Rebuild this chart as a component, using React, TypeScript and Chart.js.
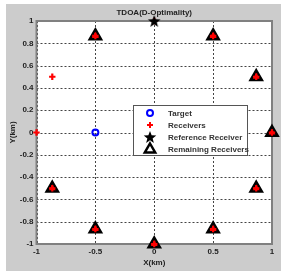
import React, { useEffect, useRef } from "react";
import { Chart, registerables } from "chart.js";

Chart.register(...registerables);

const chartTitle = "TDOA(D-Optimality)";
const xTitle = "X(km)";
const yTitle = "Y(km)";
const xTicks = [-1, -0.5, 0, 0.5, 1];
const yTicks = [-1, -0.8, -0.6, -0.4, -0.2, 0, 0.2, 0.4, 0.6, 0.8, 1];

const targetX = [-0.5];
const targetY = [0];
const receiverX = [1, 0.866, 0.5, 0, -0.5, -0.866, -1, -0.866, -0.5, 0, 0.5, 0.866];
const receiverY = [0, 0.5, 0.866, 1, 0.866, 0.5, 0, -0.5, -0.866, -1, -0.866, -0.5];
const referenceX = [0];
const referenceY = [1];
const remainingX = [1, 0.866, 0.5, -0.5, -0.866, -0.5, 0, 0.5, 0.866];
const remainingY = [0, 0.5, 0.866, 0.866, -0.5, -0.866, -1, -0.866, -0.5];
const legendLabels = ["Target", "Receivers", "Reference Receiver", "Remaining Receivers"];

const FONT = "'Liberation Sans', Arial, sans-serif";

function drawStar(ctx: CanvasRenderingContext2D, cx: number, cy: number, R: number) {
  const r = R * 0.42;
  ctx.beginPath();
  for (let i = 0; i < 10; i++) {
    const rad = (Math.PI / 5) * i - Math.PI / 2;
    const rr = i % 2 === 0 ? R : r;
    const x = cx + Math.cos(rad) * rr;
    const y = cy + Math.sin(rad) * rr;
    if (i === 0) ctx.moveTo(x, y);
    else ctx.lineTo(x, y);
  }
  ctx.closePath();
  ctx.fillStyle = "#000";
  ctx.fill();
}

function makeStarImage(): HTMLCanvasElement {
  const c = document.createElement("canvas");
  c.width = 14;
  c.height = 14;
  const ctx = c.getContext("2d")!;
  drawStar(ctx, 7, 7.6, 6.6);
  return c;
}

function pts(xs: number[], ys: number[]) {
  return xs.map((x, i) => ({ x, y: ys[i] }));
}

export default function App() {
  const ref = useRef<HTMLCanvasElement | null>(null);
  useEffect(() => {
    document.body.style.margin = "0";
    const starImg = makeStarImage();
    const framePlugin = {
      id: "frame",
      beforeDraw(chart: any) {
        const { ctx, chartArea: ca, width, height } = chart;
        ctx.save();
        ctx.fillStyle = "#cccccc";
        ctx.fillRect(0, 0, width, height);
        ctx.fillStyle = "#ffffff";
        ctx.fillRect(ca.left, ca.top, ca.right - ca.left, ca.bottom - ca.top);
        ctx.restore();
      },
      beforeDatasetsDraw(chart: any) {
        const { ctx, chartArea: ca, scales } = chart;
        ctx.save();
        // dotted grid through the library's scales
        ctx.strokeStyle = "#444";
        ctx.lineWidth = 1;
        ctx.setLineDash([2, 2]);
        ctx.beginPath();
        xTicks.forEach((v) => {
          const px = Math.round(scales.x.getPixelForValue(v)) + 0.5;
          ctx.moveTo(px, ca.top);
          ctx.lineTo(px, ca.bottom);
        });
        yTicks.forEach((v) => {
          const py = Math.round(scales.y.getPixelForValue(v)) + 0.5;
          ctx.moveTo(ca.left, py);
          ctx.lineTo(ca.right, py);
        });
        ctx.stroke();
        ctx.setLineDash([]);
        ctx.strokeStyle = "#808080";
        ctx.lineWidth = 2;
        ctx.strokeRect(ca.left, ca.top, ca.right - ca.left, ca.bottom - ca.top);
        ctx.fillStyle = "#222";
        ctx.textAlign = "center";
        ctx.textBaseline = "middle";
        ctx.font = `bold 8px ${FONT}`;
        ctx.fillText(chartTitle, (ca.left + ca.right) / 2, 9);
        ctx.fillText(xTitle, (ca.left + ca.right) / 2, 259);
        ctx.save();
        ctx.translate(6.5, (ca.top + ca.bottom) / 2);
        ctx.rotate(-Math.PI / 2);
        ctx.fillText(yTitle, 0, 0);
        ctx.restore();
        ctx.restore();
      },
      afterDraw(chart: any) {
        const { ctx, chartArea: ca } = chart;
        const bx = ca.left + 96.5;
        const by = ca.top + 84;
        const bw = 115;
        const bh = 51;
        ctx.save();
        ctx.fillStyle = "#fff";
        ctx.fillRect(bx, by, bw, bh);
        ctx.strokeStyle = "#555";
        ctx.lineWidth = 1;
        ctx.strokeRect(bx + 0.5, by + 0.5, bw - 1, bh - 1);
        const mx = bx + 17;
        const rows = [8, 20, 32, 44];
        ctx.beginPath();
        ctx.arc(mx, by + rows[0], 3, 0, Math.PI * 2);
        ctx.strokeStyle = "#0000ff";
        ctx.lineWidth = 2;
        ctx.stroke();
        ctx.strokeStyle = "#ff0000";
        ctx.lineWidth = 2;
        ctx.beginPath();
        ctx.moveTo(mx - 3, by + rows[1]);
        ctx.lineTo(mx + 3, by + rows[1]);
        ctx.moveTo(mx, by + rows[1] - 3);
        ctx.lineTo(mx, by + rows[1] + 3);
        ctx.stroke();
        drawStar(ctx, mx, by + rows[2] + 0.6, 6.6);
        ctx.beginPath();
        const r = 6;
        const cy = by + rows[3] + 0.5;
        ctx.moveTo(mx, cy - r);
        ctx.lineTo(mx + r * 0.866, cy + r * 0.5);
        ctx.lineTo(mx - r * 0.866, cy + r * 0.5);
        ctx.closePath();
        ctx.strokeStyle = "#000";
        ctx.lineWidth = 2.5;
        ctx.lineJoin = "miter";
        ctx.stroke();
        ctx.fillStyle = "#333";
        ctx.textAlign = "left";
        ctx.textBaseline = "middle";
        ctx.font = `bold 8px ${FONT}`;
        legendLabels.forEach((t, i) => ctx.fillText(t, bx + 35, by + rows[i] + 0.5));
        ctx.restore();
      },
    };

    const chart = new Chart(ref.current!, {
      type: "scatter",
      data: {
        datasets: [
          {
            label: legendLabels[2],
            data: pts(referenceX, referenceY),
            pointStyle: starImg as any,
            pointRadius: 7,
            clip: false as any,
          },
          {
            label: legendLabels[0],
            data: pts(targetX, targetY),
            pointStyle: "circle",
            pointRadius: 3,
            borderColor: "#0000ff",
            backgroundColor: "rgba(0,0,0,0)",
            borderWidth: 2,
            clip: false as any,
          },
          {
            label: legendLabels[1],
            data: pts(receiverX, receiverY),
            pointStyle: "cross",
            pointRadius: 3.2,
            borderColor: "#ff0000",
            backgroundColor: "#ff0000",
            borderWidth: 2.2,
            clip: false as any,
          },
          {
            label: legendLabels[3],
            data: pts(remainingX, remainingY),
            pointStyle: "triangle",
            pointRadius: 6.5,
            borderColor: "#000000",
            backgroundColor: "#ff0000",
            borderWidth: 2.5,
            clip: false as any,
          },
        ],
      },
      options: {
        animation: false,
        responsive: false,
        layout: { padding: { top: 17, right: 7, left: 0, bottom: 0 } },
        plugins: { legend: { display: false }, tooltip: { enabled: false }, title: { display: false } },
        scales: {
          x: {
            type: "linear",
            min: -1,
            max: 1,
            afterBuildTicks: (s: any) => {
              s.ticks = xTicks.map((v) => ({ value: v }));
            },
            afterFit: (s: any) => {
              s.height = 27;
            },
            grid: { display: false, drawTicks: false },
            border: { display: false },
            ticks: {
              padding: 3,
              color: "#222",
              font: { family: FONT, size: 8, weight: "bold" },
              maxRotation: 0,
              callback: (v: any) => String(Math.round(Number(v) * 10) / 10),
            },
          },
          y: {
            type: "linear",
            min: -1,
            max: 1,
            afterBuildTicks: (s: any) => {
              s.ticks = yTicks.map((v) => ({ value: v }));
            },
            afterFit: (s: any) => {
              s.width = 30.5;
            },
            grid: { display: false, drawTicks: false },
            border: { display: false },
            ticks: {
              padding: 3,
              color: "#222",
              font: { family: FONT, size: 8, weight: "bold" },
              callback: (v: any) => String(Math.round(Number(v) * 10) / 10),
            },
          },
        },
      } as any,
      plugins: [framePlugin],
    });
    return () => chart.destroy();
  }, []);
  return (
    <div style={{ position: "absolute", left: 6, top: 4, width: 275, height: 267 }}>
      <canvas ref={ref} width={275} height={267} style={{ width: 275, height: 267 }} />
    </div>
  );
}
